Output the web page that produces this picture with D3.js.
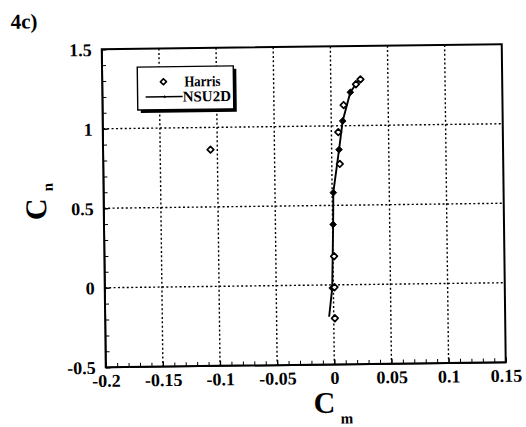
<!DOCTYPE html>
<html>
<head>
<meta charset="utf-8">
<script src="https://cdn.jsdelivr.net/npm/d3@7"></script>
<style>
  html, body { margin: 0; padding: 0; background: #fff; }
  svg { display: block; }
</style>
</head>
<body>
<svg id="chart" width="526" height="427"></svg>
<script>
// Harris experiment: normal-force coefficient vs pitching-moment coefficient
const harrisCm = [-0.106, 0.001, 0.001, 0.001, 0.007, 0.006, 0.011, 0.022, 0.026];
const harrisCn = [0.86, -0.21, -0.015, 0.18, 0.76, 0.96, 1.13, 1.26, 1.29];

// NSU2D computation
const nsuCm = [-0.004, -0.001, 0.0005, 0.001, 0.0065, 0.010, 0.017, 0.024];
const nsuCn = [-0.20, -0.02, 0.38, 0.58, 0.85, 1.03, 1.21, 1.28];
const nsuMarked = [1, 2, 3, 4, 5, 6]; // indices drawn with a solid diamond

const xTicks = [-0.2, -0.15, -0.1, -0.05, 0, 0.05, 0.1, 0.15];
const yTicks = [-0.5, 0, 0.5, 1, 1.5];
const xLabels = ["-0.2", "-0.15", "-0.1", "-0.05", "0", "0.05", "0.1", "0.15"];
const yLabels = ["-0.5", "0", "0.5", "1", "1.5"];
const seriesNames = ["Harris", "NSU2D"];

const SERIF = "'Liberation Serif', 'Times New Roman', 'DejaVu Serif', serif";

const svg = d3.select("#chart");
const W = 400, H = 318, L = 103.75, T = 46.75;
const cx = L + W / 2, cy = T + H / 2;

// the whole sheet sits slightly tilted
const g = svg.append("g").attr("transform", `rotate(-0.72, ${cx}, ${cy})`)
  .style("font-family", SERIF).style("font-weight", "700");

const x = d3.scaleLinear().domain([-0.2, 0.15]).range([L, L + W]);
const y = d3.scaleLinear().domain([-0.5, 1.5]).range([T + H, T]);

// dotted grid
const grid = g.append("g").attr("stroke", "#000").attr("stroke-width", 1.4)
  .attr("stroke-dasharray", "2,2.4").attr("fill", "none");
grid.selectAll("line.v").data(xTicks.slice(1, -1)).join("line")
  .attr("x1", d => x(d)).attr("x2", d => x(d)).attr("y1", T).attr("y2", T + H);
grid.selectAll("line.h").data(yTicks.slice(1, -1)).join("line")
  .attr("x1", L).attr("x2", L + W).attr("y1", d => y(d)).attr("y2", d => y(d));

// minor ticks (inward)
const xMinor = d3.range(-0.2, 0.1501, 0.01).map(v => +v.toFixed(3));
const yMinor = d3.range(-0.5, 1.5001, 0.1).map(v => +v.toFixed(3));

const xAxisMinor = d3.axisBottom(x).tickValues(xMinor).tickSizeInner(-4).tickSizeOuter(0).tickFormat("");
const yAxisMinor = d3.axisLeft(y).tickValues(yMinor).tickSizeInner(-4).tickSizeOuter(0).tickFormat("");
g.append("g").attr("transform", `translate(0,${T + H})`).call(xAxisMinor);
g.append("g").attr("transform", `translate(${L},0)`).call(yAxisMinor);

// major ticks and labels
const xAxis = d3.axisBottom(x).tickValues(xTicks).tickSizeInner(-5).tickSizeOuter(0)
  .tickPadding(7).tickFormat((d, i) => xLabels[i]);
const yAxis = d3.axisLeft(y).tickValues(yTicks).tickSizeInner(-5).tickSizeOuter(0)
  .tickPadding(10).tickFormat((d, i) => yLabels[i]);
const gx = g.append("g").attr("transform", `translate(0,${T + H})`).call(xAxis);
const gy = g.append("g").attr("transform", `translate(${L},0)`).call(yAxis);
[gx, gy].forEach(a => {
  a.attr("font-family", null).attr("font-size", null);
  a.selectAll("text").style("font-family", SERIF).style("font-weight", "700")
    .style("font-size", "18px").attr("fill", "#000");
  a.selectAll("line").attr("stroke", "#000").attr("stroke-width", 1.3);
  a.select(".domain").remove();
});
gx.selectAll("text").attr("dy", "0.7em");
gy.selectAll("text").attr("dy", "0.34em");

// frame
g.append("rect").attr("x", L).attr("y", T).attr("width", W).attr("height", H)
  .attr("fill", "none").attr("stroke", "#000").attr("stroke-width", 2);

// NSU2D line
const nsu = nsuCm.map((c, i) => ({ cm: c, cn: nsuCn[i] }));
const line = d3.line().x(d => x(d.cm)).y(d => y(d.cn));
g.append("path").datum(nsu).attr("d", line)
  .attr("fill", "none").attr("stroke", "#000").attr("stroke-width", 1.9);

const diamond = (s) => `M0,${-s}L${s},0L0,${s}L${-s},0Z`;

g.selectAll("path.nsu").data(nsuMarked.map(i => nsu[i])).join("path")
  .attr("class", "nsu")
  .attr("transform", d => `translate(${x(d.cm)},${y(d.cn)})`)
  .attr("d", diamond(3.4)).attr("fill", "#000").attr("stroke", "#000").attr("stroke-width", 0.8);

// Harris markers
const harris = harrisCm.map((c, i) => ({ cm: c, cn: harrisCn[i] }));
g.selectAll("path.harris").data(harris).join("path")
  .attr("class", "harris")
  .attr("transform", d => `translate(${x(d.cm)},${y(d.cn)})`)
  .attr("d", diamond(3.3)).attr("fill", "#fff").attr("stroke", "#000")
  .attr("stroke-width", 1.7).attr("stroke-linejoin", "round");

// legend
const lg = g.append("g");
lg.append("rect").attr("x", 142).attr("y", 68).attr("width", 96).attr("height", 43).attr("fill", "#000");
lg.append("rect").attr("x", 139).attr("y", 65).attr("width", 96).attr("height", 43)
  .attr("fill", "#fff").attr("stroke", "#000").attr("stroke-width", 1.4);
lg.append("path").attr("transform", "translate(165,80)").attr("d", diamond(3))
  .attr("fill", "#fff").attr("stroke", "#000").attr("stroke-width", 1.7).attr("stroke-linejoin", "round");
lg.append("text").attr("x", 186).attr("y", 85).style("font-size", "15px")
  .attr("textLength", 36).attr("lengthAdjust", "spacingAndGlyphs").text(seriesNames[0]);
lg.append("line").attr("x1", 147).attr("x2", 184).attr("y1", 95).attr("y2", 95)
  .attr("stroke", "#000").attr("stroke-width", 1.6);
lg.append("path").attr("transform", "translate(166,95)").attr("d", diamond(1.6)).attr("fill", "#000");
lg.append("text").attr("x", 184).attr("y", 100).style("font-size", "15px").text(seriesNames[1]);

// panel tag
g.append("text").attr("x", 13).attr("y", 25).style("font-size", "21px").text("4c)");

// axis titles
g.append("text").attr("x", 322).attr("y", 413).attr("text-anchor", "middle")
  .style("font-size", "30px").text("C");
g.append("text").attr("x", 338).attr("y", 424).style("font-size", "15px").text("m");

g.append("text").attr("transform", "translate(46,206) rotate(-90)").attr("text-anchor", "middle")
  .style("font-size", "30px").text("C");
g.append("text").attr("transform", "translate(53,188) rotate(-90)")
  .style("font-size", "15px").text("n");
</script>
</body>
</html>
